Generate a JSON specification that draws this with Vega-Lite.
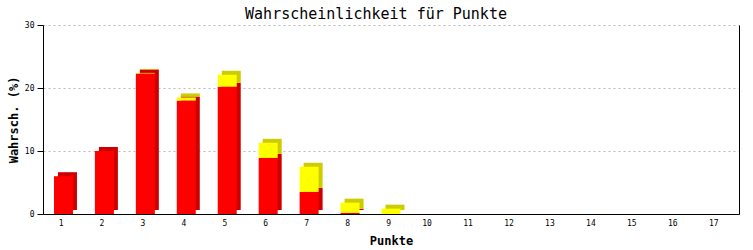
{
  "$schema": "https://vega.github.io/schema/vega-lite/v6.json",
  "autosize": "none",
  "width": 696,
  "height": 189,
  "padding": {"left": 43, "top": 25, "right": 14, "bottom": 36},
  "background": "white",
  "title": {
    "text": "Wahrscheinlichkeit für Punkte",
    "font": "DejaVu Sans Mono",
    "fontSize": 15,
    "fontWeight": "normal",
    "color": "black",
    "anchor": "middle",
    "frame": "group",
    "dx": -15,
    "dy": 7,
    "offset": 6
  },
  "config": {
    "view": {"stroke": null},
    "axis": {
      "labelFont": "DejaVu Sans Mono",
      "labelFontSize": 8,
      "labelColor": "black",
      "titleFont": "DejaVu Sans Mono",
      "titleFontSize": 12,
      "titleFontWeight": "bold",
      "titleColor": "black",
      "domainColor": "black",
      "tickColor": "black"
    }
  },
  "data": {
    "values": [
      {"Punkte": 1, "serie": "rot", "wert": 6.0},
      {"Punkte": 1, "serie": "gelb", "wert": 0},
      {"Punkte": 2, "serie": "rot", "wert": 10.0},
      {"Punkte": 2, "serie": "gelb", "wert": 0},
      {"Punkte": 3, "serie": "rot", "wert": 22.3},
      {"Punkte": 3, "serie": "gelb", "wert": 0.1},
      {"Punkte": 4, "serie": "rot", "wert": 18.0},
      {"Punkte": 4, "serie": "gelb", "wert": 0.5},
      {"Punkte": 5, "serie": "rot", "wert": 20.2},
      {"Punkte": 5, "serie": "gelb", "wert": 1.9},
      {"Punkte": 6, "serie": "rot", "wert": 8.9},
      {"Punkte": 6, "serie": "gelb", "wert": 2.4},
      {"Punkte": 7, "serie": "rot", "wert": 3.5},
      {"Punkte": 7, "serie": "gelb", "wert": 4.0},
      {"Punkte": 8, "serie": "rot", "wert": 0.2},
      {"Punkte": 8, "serie": "gelb", "wert": 1.6},
      {"Punkte": 9, "serie": "rot", "wert": 0},
      {"Punkte": 9, "serie": "gelb", "wert": 0.85},
      {"Punkte": 10, "serie": "rot", "wert": 0},
      {"Punkte": 10, "serie": "gelb", "wert": 0},
      {"Punkte": 11, "serie": "rot", "wert": 0},
      {"Punkte": 11, "serie": "gelb", "wert": 0},
      {"Punkte": 12, "serie": "rot", "wert": 0},
      {"Punkte": 12, "serie": "gelb", "wert": 0},
      {"Punkte": 13, "serie": "rot", "wert": 0},
      {"Punkte": 13, "serie": "gelb", "wert": 0},
      {"Punkte": 14, "serie": "rot", "wert": 0},
      {"Punkte": 14, "serie": "gelb", "wert": 0},
      {"Punkte": 15, "serie": "rot", "wert": 0},
      {"Punkte": 15, "serie": "gelb", "wert": 0},
      {"Punkte": 16, "serie": "rot", "wert": 0},
      {"Punkte": 16, "serie": "gelb", "wert": 0},
      {"Punkte": 17, "serie": "rot", "wert": 0},
      {"Punkte": 17, "serie": "gelb", "wert": 0}
    ]
  },
  "layer": [
    {
      "mark": {"type": "bar", "width": 19, "xOffset": 4, "yOffset": -4},
      "encoding": {
        "x": {"field": "Punkte", "type": "ordinal"},
        "y": {
          "field": "wert", "type": "quantitative", "stack": "zero",
          "scale": {"domain": [0, 30]},
          "axis": {"orient": "right", "labels": false, "ticks": false, "grid": false, "title": null, "domainColor": "black"}
        },
        "color": {
          "field": "serie", "type": "nominal",
          "scale": {"domain": ["rot", "gelb"], "range": ["#cc0000", "#cccc00"]},
          "legend": null
        },
        "order": {"field": "serie", "sort": "descending"}
      }
    },
    {
      "mark": {"type": "bar", "width": 19},
      "encoding": {
        "x": {
          "field": "Punkte", "type": "ordinal",
          "axis": {
            "title": "Punkte", "labelAngle": 0, "ticks": false, "labelPadding": 9,
            "titleX": 348, "titleY": 26, "titleBaseline": "middle", "titleAlign": "center"
          }
        },
        "y": {
          "field": "wert", "type": "quantitative", "stack": "zero",
          "scale": {"domain": [0, 30]},
          "axis": {
            "title": "Wahrsch. (%)", "values": [0, 10, 20, 30], "tickSize": 6, "labelPadding": 3,
            "grid": true, "gridColor": "#bbbbbb", "gridDash": [2, 3],
            "titleX": -30, "titleY": 94.5, "titleAngle": -90, "titleBaseline": "middle", "titleAlign": "center"
          }
        },
        "color": {
          "field": "serie", "type": "nominal",
          "scale": {"domain": ["rot", "gelb"], "range": ["#ff0000", "#ffff00"]},
          "legend": null
        },
        "order": {"field": "serie", "sort": "descending"}
      }
    }
  ],
  "resolve": {"axis": {"y": "independent"}, "scale": {"color": "independent"}}
}
